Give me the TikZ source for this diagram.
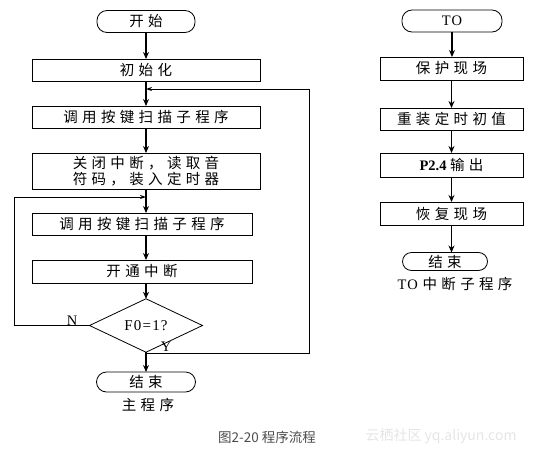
\documentclass[tikz,border=0pt]{standalone}
\usepackage{fontspec}
\setmainfont{Liberation Serif}
\newfontfamily\cjk[LetterSpace=30]{Noto Sans CJK SC}
\newfontfamily\latsp[LetterSpace=8]{Liberation Serif}
\newfontfamily\capfont{Noto Sans CJK SC}
\usetikzlibrary{shapes.geometric,arrows.meta,calc}
\begin{document}
\begin{tikzpicture}[x=1pt,y=-1pt,
  every node/.style={inner sep=0pt,outer sep=0pt},
  term/.style={draw,line width=0.8pt,rounded corners=10pt,minimum height=22pt,font=\fontsize{14.5}{15}\selectfont},
  proc/.style={draw,line width=0.8pt,rectangle,minimum height=22pt,font=\fontsize{14.5}{16.5}\selectfont,align=center},
  dec/.style={draw,line width=0.8pt,diamond,minimum width=113pt,minimum height=37pt,font=\fontsize{15}{15}\selectfont},
  flow/.style={line width=1.3pt,-{Stealth[length=7pt,width=6pt]}},
  loop/.style={line width=0.8pt,-{Stealth[length=6pt,width=4pt]}},
  lbl/.style={font=\fontsize{14.5}{15}\selectfont}
]
\useasboundingbox (0,0) rectangle (540,452);
% main program
\node[term,minimum width=98pt] (start) at (146,21.5) {\cjk 开始};
\node[proc,minimum width=228pt] (init) at (146,70) {\cjk 初始化};
\node[proc,minimum width=228pt] (scan1) at (146,117) {\cjk 调用按键扫描子程序};
\node[proc,minimum width=228pt,minimum height=36pt] (close) at (146,171) {\cjk 关闭中断，读取音\\\cjk 符码，装入定时器};
\node[proc,minimum width=220pt] (scan2) at (142,224) {\cjk 调用按键扫描子程序};
\node[proc,minimum width=220pt,minimum height=23pt] (open) at (142,271.5) {\cjk 开通中断};
\node[dec] (test) at (146,325.5) {\latsp F0=1?};
\node[term,minimum width=99pt,minimum height=20pt] (stop) at (146,382) {\cjk 结束};
\node[lbl] (mainlbl) at (148,405) {\cjk 主程序};
\node[lbl] (nlbl) at (72,321) {N};
\node[lbl] (ylbl) at (166,347) {Y};
\coordinate (j1) at (146,89);
\coordinate (j2) at (146,197);
\coordinate (yj) at (146,353.5);
\coordinate (r1) at (309,353.5);
\coordinate (r2) at (309,89);
\coordinate (l1) at (14,325.5);
\coordinate (l2) at (14,197);
\draw[flow] (start.south) -- (init.north);
\draw[flow] (init.south) -- (scan1.north);
\draw[flow] (scan1.south) -- (close.north);
\draw[flow] (close.south) -- (close.south |- scan2.north);
\draw[flow] (scan2.south -| close.south) -- (open.north -| close.south);
\draw[flow] (open.south -| close.south) -- (test.north);
\draw[flow] (test.south) -- (stop.north);
\draw[loop] (yj) -- (r1) -- (r2) -- (j1);
\draw[loop] (test.west) -- (l1) -- (l2) -- (j2);
% interrupt routine
\node[term,minimum width=100pt] (t0) at (452,21) {\latsp TO};
\node[proc,minimum width=143pt,minimum height=23pt] (s1) at (451.5,68.5) {\cjk 保护现场};
\node[proc,minimum width=143pt] (s2) at (451.5,119) {\cjk 重装定时初值};
\node[proc,minimum width=143pt,minimum height=24pt] (s3) at (451.5,165) {\textbf{P2.4} {\cjk 输出}};
\node[proc,minimum width=143pt,minimum height=23pt] (s4) at (451.5,213.5) {\cjk 恢复现场};
\node[term,minimum width=85pt,minimum height=18pt,rounded corners=9pt] (t1) at (445,261.5) {\cjk 结束};
\node[lbl] (intlbl) at (455,284) {\latsp TO {\cjk 中断子程序}};
\draw[flow] (t0.south) -- (t0.south |- s1.north);
\draw[flow] (s1.south) -- (s2.north);
\draw[flow] (s2.south) -- (s3.north);
\draw[flow] (s3.south) -- (s4.north);
\draw[flow] (s4.south) -- (s4.south |- t1.north);
% caption and watermark
\node[font=\fontsize{13.5}{14}\selectfont\capfont,text=black!70] (cap) at (267,437) {图2-20 程序流程};
\node[font=\fontsize{14}{15}\selectfont\capfont,text=black!10] (wm) at (441,436) {云栖社区 yq.aliyun.com};
\end{tikzpicture}
\end{document}
